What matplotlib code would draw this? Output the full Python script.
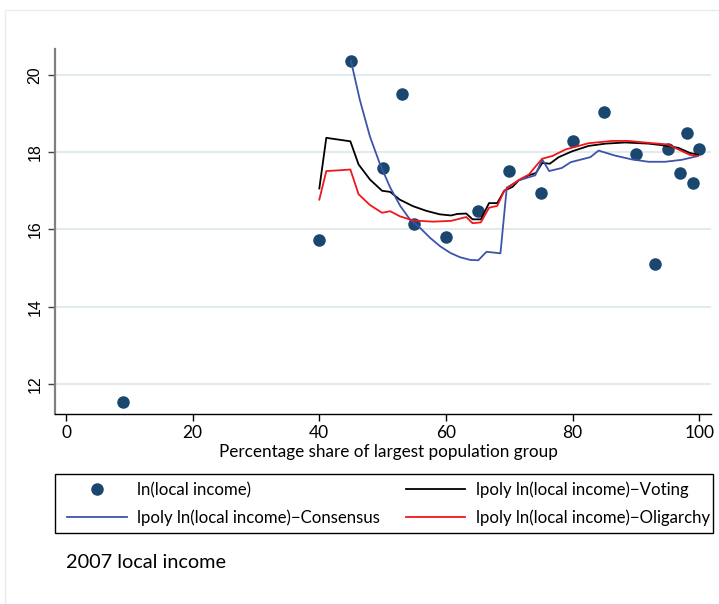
import numpy as np
import matplotlib.pyplot as plt
from matplotlib.lines import Line2D
from matplotlib.patches import Rectangle

# scatter: ln(local income)
share = [9, 40, 45, 50, 53, 55, 60, 65, 70, 75, 80, 85, 90, 93, 95, 97, 98, 99, 100]
income = [11.52, 15.73, 20.36, 17.59, 19.51, 16.13, 15.81, 16.48, 17.50, 16.94,
          18.29, 19.04, 17.96, 15.11, 18.07, 17.45, 18.49, 17.20, 18.08]

# lpoly - Voting
vot_x = [40, 41.1, 44.9, 46.2, 48, 49.9, 51.2, 52.7, 54.8, 56.9, 59, 60.8, 61.8, 63.2, 64.2,
         65.5, 66.8, 68.1, 69.2, 70.5, 71.5, 73.1, 74.2, 75.2, 76.4, 77.8, 79.9, 82.5,
         85.2, 88.3, 92, 94.6, 96.7, 98.5, 99.8]
vot_y = [17.06, 18.37, 18.28, 17.68, 17.29, 17.0, 16.97, 16.77, 16.6, 16.48, 16.39, 16.36,
         16.4, 16.41, 16.26, 16.26, 16.68, 16.68, 17.0, 17.1, 17.27, 17.40, 17.46, 17.72,
         17.70, 17.87, 18.02, 18.16, 18.22, 18.25, 18.22, 18.17, 18.11, 17.98, 17.93]

# lpoly - Consensus
con_x = [45.0, 46.4, 48.0, 49.6, 51.2, 52.8, 54.3, 55.9, 57.5, 59.1, 60.7, 62.2, 63.8,
         65.1, 66.4, 68.6, 69.6, 71.5, 74.1, 75.2, 76.3, 78.3, 79.7, 82.8, 84.1, 86.7,
         89.4, 92, 94.6, 97.2, 99.8]
con_y = [20.36, 19.35, 18.40, 17.68, 17.08, 16.60, 16.26, 16.04, 15.78, 15.56, 15.39,
         15.28, 15.21, 15.20, 15.42, 15.38, 17.08, 17.27, 17.40, 17.81, 17.51, 17.59, 17.74,
         17.87, 18.04, 17.91, 17.81, 17.75, 17.75, 17.8, 17.9]

# lpoly - Oligarchy
oli_x = [40, 41.1, 43.2, 44.9, 46.2, 48, 49.9, 51.2, 52.7, 54.8, 57.9, 60.8, 63.2, 64.2,
         65.5, 66.8, 68.1, 69.2, 71.5, 73.1, 74.2, 75.2, 76.8, 78.9, 82.5, 86.2, 88.8, 92,
         94.9, 96.7, 98.5, 99.8]
oli_y = [16.77, 17.51, 17.53, 17.55, 16.91, 16.63, 16.43, 16.47, 16.34, 16.23, 16.2, 16.22,
         16.32, 16.16, 16.18, 16.56, 16.61, 17.0, 17.28, 17.42, 17.64, 17.83, 17.9, 18.07,
         18.23, 18.29, 18.29, 18.24, 18.2, 18.07, 17.93, 17.9]

W, H = 719, 604
txt_font = ['Lato', 'DejaVu Sans']
num_font = ['Liberation Sans', 'DejaVu Sans']

fig = plt.figure(figsize=(W / 100, H / 100), dpi=100)
fig.patches.append(Rectangle((5 / W, -0.1), 1.2, 1 - 10 / H + 0.1, transform=fig.transFigure,
                             fill=False, edgecolor='#e4eeee', lw=1))

ax = fig.add_axes([55 / W, 1 - 414 / H, (711 - 55) / W, (414 - 49) / H])
ax.set_xlim(-1.74, 101.85)
ax.set_ylim(11.22, 20.67)

navy = '#1a476f'
ax.plot(share, income, 'o', color=navy, ms=8, mec=navy, zorder=3)
ax.plot(vot_x, vot_y, color='black', lw=1.3, zorder=4)
ax.plot(con_x, con_y, color='#3d54aa', lw=1.3, zorder=4)
ax.plot(oli_x, oli_y, color='#f0161c', lw=1.3, zorder=4)

ax.set_yticks([12, 14, 16, 18, 20])
ax.set_xticks([0, 20, 40, 60, 80, 100])
ax.grid(axis='y', color='#e2eaec', lw=1.5)
ax.set_axisbelow(True)
for s in ['top', 'right']:
    ax.spines[s].set_visible(False)
ax.spines['left'].set_color('#808080')
ax.spines['left'].set_linewidth(1.6)
ax.spines['bottom'].set_color('black')
ax.spines['bottom'].set_linewidth(1.0)
ax.tick_params(axis='y', length=5, color='#404040', width=1, pad=4)
ax.tick_params(axis='x', length=5, color='black', width=1, pad=3)
for lab in ax.get_yticklabels():
    lab.set_family(num_font)
    lab.set_fontsize(11.5)
    lab.set_rotation(90)
    lab.set_va('center')
for lab in ax.get_xticklabels():
    lab.set_family(txt_font)
    lab.set_fontsize(12.5)

ax.set_xlabel('Percentage share of largest population group', family=txt_font,
              fontsize=12.3, labelpad=2)
ax.xaxis.label.set_x((388 - 55) / 656)

# legend frame drawn separately so the entries can be placed freely
fig.patches.append(Rectangle((55 / W, 1 - 533 / H), (713 - 55) / W, (533 - 474) / H,
                             transform=fig.transFigure, fill=False, edgecolor='black', lw=1.0))

handles = [
    Line2D([], [], marker='o', ls='none', color=navy, ms=8),
    Line2D([], [], color='#3d54aa', lw=1.3),
    Line2D([], [], color='black', lw=1.3),
    Line2D([], [], color='#f0161c', lw=1.3),
]
labels = ['ln(local income)',
          'lpoly ln(local income)\u2212Consensus',
          'lpoly ln(local income)\u2212Voting',
          'lpoly ln(local income)\u2212Oligarchy']
leg = fig.legend(handles, labels, ncol=2, loc='center',
                 bbox_to_anchor=(64 / W, 1 - 533 / H, (713 - 64) / W, (533 - 474) / H),
                 mode='expand', frameon=False,
                 prop={'family': txt_font, 'size': 12.1}, handlelength=3.55,
                 handletextpad=0.6, labelspacing=0.65, borderpad=0.2,
                 borderaxespad=0)

fig.text(66 / W, 1 - 563 / H, '2007 local income', family=txt_font, fontsize=14.3,
         va='center', ha='left')

fig.savefig('out.png', dpi=100)
